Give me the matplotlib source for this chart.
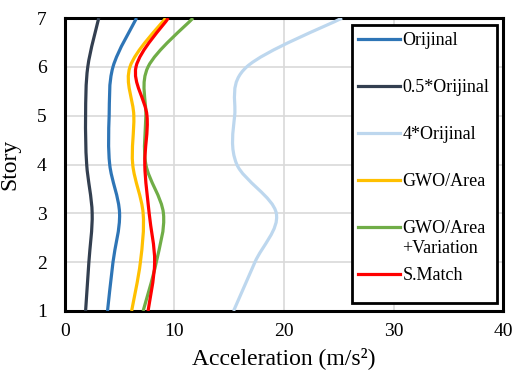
import matplotlib.pyplot as plt
import numpy as np
from matplotlib.path import Path
from matplotlib.patches import PathPatch, Rectangle
from matplotlib.lines import Line2D

# Story levels and peak accelerations (m/s^2)
stories = [1, 2, 3, 4, 5, 6, 7]
orijinal = [3.9, 4.4, 5.0, 4.1, 4.05, 4.4, 6.55]
half_orijinal = [1.9, 2.2, 2.5, 2.0, 1.9, 2.1, 3.1]
four_orijinal = [15.4, 17.35, 19.3, 15.7, 15.5, 16.6, 25.3]
gwo_area = [6.1, 6.9, 7.15, 6.2, 6.3, 5.95, 9.2]
gwo_area_var = [7.15, 8.35, 9.0, 7.4, 7.4, 7.6, 11.7]
s_match = [7.6, 8.2, 7.7, 7.3, 7.5, 6.5, 9.45]

series = [
    ('Orijinal', orijinal, '#2E75B6'),
    ('0.5*Orijinal', half_orijinal, '#333F50'),
    ('4*Orijinal', four_orijinal, '#BDD7EE'),
    ('GWO/Area', gwo_area, '#FFC000'),
    ('GWO/Area', gwo_area_var, '#70AD47'),   # second line "+Variation" added below
    ('S.Match', s_match, '#FF0000'),
]

plt.rcParams['font.family'] = ['Liberation Serif', 'DejaVu Serif']

fig = plt.figure(figsize=(5.14, 3.76), dpi=100)
ax = fig.add_axes([0.126, 0.173, 0.853, 0.779])


def smooth_path(xs, ys):
    # Excel-style smoothed line: Catmull-Rom segments drawn as cubic Beziers
    pts = np.column_stack([xs, ys]).astype(float)
    n = len(pts)
    verts = [pts[0]]
    codes = [Path.MOVETO]
    for i in range(n - 1):
        p0 = pts[i - 1] if i > 0 else pts[i]
        p1 = pts[i]
        p2 = pts[i + 1]
        p3 = pts[i + 2] if i + 2 < n else pts[i + 1]
        c1 = p1 + (p2 - p0) / 6.0
        c2 = p2 - (p3 - p1) / 6.0
        verts += [c1, c2, p2]
        codes += [Path.CURVE4] * 3
    return Path(verts, codes)


handles = []
for label, vals, color in series:
    patch = PathPatch(smooth_path(vals, stories), facecolor='none',
                      edgecolor=color, lw=2.3, zorder=3, capstyle='butt')
    ax.add_patch(patch)
    handles.append(Line2D([], [], color=color, lw=2.3, label=label))

ax.set_xlim(0, 40)
ax.set_ylim(1, 7)
ax.set_xticks([0, 10, 20, 30, 40])
ax.set_yticks(stories)
ax.tick_params(axis='x', length=0, labelsize=14, pad=9)
ax.tick_params(axis='y', length=0, labelsize=14, pad=13)
ax.grid(True, color='#D9D9D9', lw=1.2, zorder=0)
ax.set_axisbelow(True)
for s in ax.spines.values():
    s.set_linewidth(2.2)
    s.set_color('black')

ax.set_xlabel('Acceleration (m/s²)', fontsize=17, labelpad=5)
ax.set_ylabel('Story', fontsize=17, labelpad=12)

# legend box (Excel-style: fixed slots, larger empty space at bottom)
box = Rectangle((0.655, 0.027), 0.331, 0.949, transform=ax.transAxes,
                facecolor='white', edgecolor='black', lw=2.0, zorder=4)
ax.add_patch(box)

leg = ax.legend(handles=handles, loc='upper left', bbox_to_anchor=(0.655, 0.973),
                fontsize=13, labelspacing=1.66, handlelength=2.3, handletextpad=0.15,
                borderpad=0.35, borderaxespad=0, frameon=False)
leg.set_zorder(5)

# second line of the green entry, hung just under its first line
ax.annotate('+Variation', xy=(0, 0), xycoords=leg.get_texts()[4],
            xytext=(0, -2), textcoords='offset points', ha='left', va='top',
            fontsize=13, zorder=6)

fig.savefig('out.png', dpi=100)
